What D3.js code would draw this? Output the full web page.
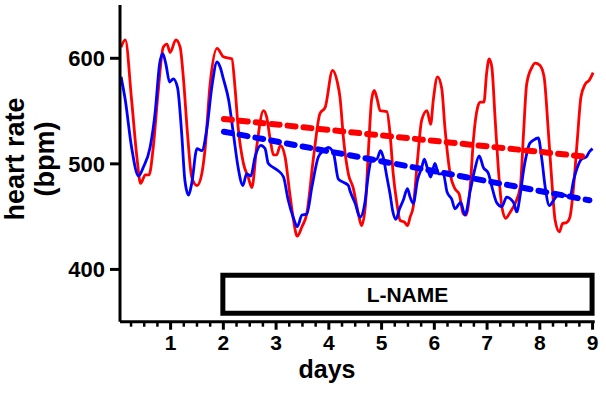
<!DOCTYPE html>
<html>
<head>
<meta charset="utf-8">
<script src="https://cdn.jsdelivr.net/npm/d3@7"></script>
<style>
  body { margin: 0; background: #fff; }
  svg text { font-family: "Liberation Sans", Arial, sans-serif; font-weight: bold; fill: #000; }
</style>
</head>
<body>
<div id="chart"></div>
<script>
// heart rate traces (days, bpm)
const redDays = [0.07,0.15,0.27,0.37,0.44,0.53,0.60,0.68,0.77,0.87,0.94,1.00,1.11,1.19,1.25,1.33,1.41,1.51,1.60,1.66,1.76,1.89,
  2.01,2.17,2.23,2.29,2.39,2.48,2.55,2.64,2.77,2.83,2.90,2.96,3.02,3.09,3.18,3.27,3.34,3.41,3.50,3.59,3.72,3.84,3.94,
  4.08,4.17,4.22,4.29,4.38,4.47,4.57,4.63,4.70,4.76,4.82,4.87,4.93,4.98,5.11,5.17,5.23,5.30,5.36,5.45,5.50,5.55,5.61,
  5.69,5.77,5.87,5.94,5.99,6.07,6.15,6.21,6.31,6.40,6.48,6.56,6.61,6.69,6.75,6.83,6.88,6.95,7.00,7.05,7.10,7.16,7.22,
  7.29,7.36,7.45,7.54,7.64,7.70,7.76,7.86,7.92,8.01,8.09,8.17,8.24,8.30,8.38,8.44,8.52,8.58,8.65,8.72,8.79,8.87,8.95,9.02];
const redBpm = [610,617,560,506,481,489,489,515,566,610,613,605,617,610,582,528,487,479,490,512,576,609,
  601,599,572,534,500,487,477,515,550,544,522,508,508,517,506,471,446,431,440,452,506,547,553,
  588,577,563,522,490,477,452,441,459,512,560,569,560,550,549,528,490,462,446,444,441,449,459,
  503,541,550,537,560,582,571,534,490,476,471,452,451,478,522,553,558,558,585,599,591,544,497,
  459,448,454,462,478,528,575,591,595,593,582,531,481,446,435,443,444,449,478,522,563,575,579,586];

const blueDays = [0.07,0.15,0.27,0.40,0.49,0.62,0.72,0.80,0.86,0.92,0.99,1.06,1.14,1.22,1.28,1.35,1.41,1.51,1.60,1.70,1.79,1.89,1.95,
  2.01,2.11,2.20,2.29,2.38,2.45,2.53,2.61,2.72,2.80,2.86,2.96,3.05,3.15,3.24,3.34,3.41,3.50,3.59,3.69,3.81,3.91,
  4.00,4.10,4.19,4.29,4.38,4.41,4.51,4.60,4.70,4.76,4.82,4.92,4.99,5.04,5.11,5.17,5.22,5.28,5.35,5.42,5.50,5.55,5.61,
  5.69,5.77,5.82,5.88,5.94,6.02,6.09,6.18,6.25,6.34,6.40,6.51,6.59,6.69,6.78,6.86,6.94,7.03,7.10,7.19,7.29,7.38,7.46,
  7.52,7.57,7.64,7.70,7.76,7.82,7.89,7.98,8.05,8.11,8.19,8.27,8.36,8.46,8.58,8.65,8.72,8.80,8.89,8.95,9.01];
const blueBpm = [582,560,515,488,496,515,550,594,604,594,577,580,572,528,484,470,481,514,512,534,572,596,591,
  580,560,528,496,479,490,488,506,517,514,500,496,493,487,465,448,440,451,452,478,506,512,
  515,509,485,482,479,474,462,449,465,490,503,504,512,506,487,471,455,447,457,465,476,468,462,
  484,496,504,495,487,500,490,490,473,466,457,463,451,474,495,507,496,491,478,463,459,468,466,
  462,454,471,493,509,519,522,524,503,478,460,465,470,470,468,484,496,504,506,511,514];

// linear trends over the L-NAME period
const trendDays = [2.02, 8.95];
const redTrend = [542, 506];
const blueTrend = [530, 465];

// L-NAME bar
const boxDays = [2, 9];
const boxBpm = [394, 358];
const boxLabel = "L-NAME";

const yTicks = [400, 500, 600];
const xTickLabels = [1, 2, 3, 4, 5, 6, 7, 8, 9];

const width = 606, height = 395;

const svg = d3.select('#chart')
  .append('svg')
  .attr('width', width)
  .attr('height', height);

const x = d3.scaleLinear().domain([0.05, 9.05]).range([120, 594.7]);
const y = d3.scaleLinear().domain([350, 650]).range([321.7, 5]);

// traces
const line = d3.line()
  .x(d => x(d[0]))
  .y(d => y(d[1]))
  .curve(d3.curveMonotoneX);

svg.append('path')
  .datum(redDays.map((d, i) => [d, redBpm[i]]))
  .attr('d', line)
  .attr('fill', 'none')
  .attr('stroke', '#ff0000')
  .attr('stroke-width', 2.8);

svg.append('path')
  .datum(blueDays.map((d, i) => [d, blueBpm[i]]))
  .attr('d', line)
  .attr('fill', 'none')
  .attr('stroke', '#0000ff')
  .attr('stroke-width', 2.8);

// dashed trend lines
const trend = d3.line().x(d => x(d[0])).y(d => y(d[1]));
[[redTrend, '#ff0000'], [blueTrend, '#0000ff']].forEach(([vals, col]) => {
  svg.append('path')
    .datum(trendDays.map((d, i) => [d, vals[i]]))
    .attr('d', trend)
    .attr('fill', 'none')
    .attr('stroke', col)
    .attr('stroke-width', 6)
    .attr('stroke-linecap', 'round')
    .attr('stroke-dasharray', '8,8');
});

// L-NAME box
svg.append('rect')
  .attr('x', x(boxDays[0]))
  .attr('y', y(boxBpm[0]))
  .attr('width', x(boxDays[1]) - x(boxDays[0]))
  .attr('height', y(boxBpm[1]) - y(boxBpm[0]))
  .attr('fill', '#fff')
  .attr('stroke', '#000')
  .attr('stroke-width', 5);

svg.append('text')
  .attr('x', (x(boxDays[0]) + x(boxDays[1])) / 2)
  .attr('y', 302)
  .attr('text-anchor', 'middle')
  .style('font-size', '21px')
  .text(boxLabel);

// y axis
const yAxis = svg.append('g')
  .attr('transform', `translate(${x(0.05)},0)`)
  .call(d3.axisLeft(y).tickValues(yTicks).tickSize(10).tickPadding(5));
yAxis.select('.domain').attr('d', `M0,${y(650)}V${y(350)}`).attr('stroke-width', 3);
yAxis.selectAll('.tick line').attr('stroke-width', 3);
yAxis.selectAll('.tick text').style('font-size', '22px').attr('dy', '0.36em');

// x axis: minor ticks every quarter day
const minor = d3.range(0.25, 9.01, 0.25).filter(v => Math.abs(v - Math.round(v)) > 0.01);
const xMinor = svg.append('g')
  .attr('transform', `translate(0,${y(350)})`)
  .call(d3.axisBottom(x).tickValues(minor).tickSize(5).tickFormat(''));
xMinor.select('.domain').attr('d', `M${x(0.05)},0H${x(9.05)}`).attr('stroke-width', 3);
xMinor.selectAll('.tick line').attr('stroke-width', 2.5);

const xAxis = svg.append('g')
  .attr('transform', `translate(0,${y(350)})`)
  .call(d3.axisBottom(x).tickValues(xTickLabels).tickSize(8).tickPadding(5).tickFormat(d3.format('d')));
xAxis.select('.domain').remove();
xAxis.selectAll('.tick line').attr('stroke-width', 3);
xAxis.selectAll('.tick text').style('font-size', '21px');

// axis titles
svg.append('text')
  .attr('x', 327)
  .attr('y', 378)
  .attr('text-anchor', 'middle')
  .style('font-size', '25px')
  .text('days');

svg.append('text')
  .attr('transform', 'translate(24,159) rotate(-90)')
  .attr('text-anchor', 'middle')
  .style('font-size', '27px')
  .text('heart rate');

svg.append('text')
  .attr('transform', 'translate(54,159) rotate(-90)')
  .attr('text-anchor', 'middle')
  .style('font-size', '27px')
  .text('(bpm)');
</script>
</body>
</html>
